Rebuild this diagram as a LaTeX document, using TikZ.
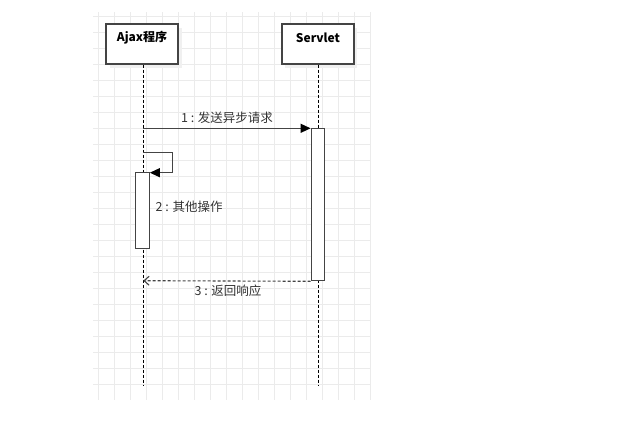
\documentclass[tikz,border=0pt]{standalone}
\usepackage{fontspec}
\setmainfont{Noto Sans CJK SC}
\usetikzlibrary{arrows.meta}
\definecolor{gridc}{HTML}{EBEBEB}
\definecolor{linec}{HTML}{444444}
\definecolor{shadowc}{HTML}{F0F0F0}
\begin{document}
\begin{tikzpicture}[x=1pt,y=-1pt,
  gridline/.style={draw=gridc,line width=0.9pt},
  actorbox/.style={draw=linec,line width=1.3pt,fill=white,minimum width=72pt,minimum height=40pt,inner sep=0pt},
  shadowbox/.style={fill=shadowc,minimum width=72pt,minimum height=40pt,inner sep=0pt},
  actortext/.style={font=\bfseries\fontsize{12pt}{14pt}\selectfont,inner sep=0pt},
  lifeline/.style={draw=black,line width=1pt,dash pattern=on 3pt off 2pt},
  activation/.style={draw=linec,line width=1.2pt,fill=white,inner sep=0pt},
  msg/.style={draw=linec,line width=1.2pt,-{Triangle[length=10pt,width=9pt,color=black]}},
  retmsg/.style={draw=linec,line width=1.1pt,dash pattern=on 3pt off 2pt,-{Straight Barb[length=5pt,width=9pt]}},
  msgtext/.style={font=\fontsize{12.5pt}{14pt}\selectfont,text=black!80,inner sep=0pt}]
\useasboundingbox (0,0) rectangle (637,425);
% grid
\foreach \i in {0,...,17} \draw[gridline] ({98.3+16*\i},12) -- ({98.3+16*\i},400);
\foreach \j in {0,...,23} \draw[gridline] (93,{16.6+16*\j}) -- (371,{16.6+16*\j});
% shadows
\node[shadowbox] (ajaxsh) at (146,48) {};
\node[shadowbox] (servsh) at (321,48) {};
% actor boxes
\node[actorbox] (ajax) at (142,44) {};
\node[actorbox] (serv) at (318,44) {};
\node[actortext] (ajaxlbl) at (142,38) {Ajax程序};
\node[actortext] (servlbl) at (318,38) {Servlet};
% lifelines
\coordinate (ajaxend) at (143.3,385);
\coordinate (servend) at (318.6,385);
\draw[lifeline] (ajax.south -| ajaxend) -- (ajaxend);
\draw[lifeline] (serv.south -| servend) -- (servend);
% activations
\node[activation,minimum width=13pt,minimum height=152.4pt] (servact) at (317.7,204.5) {};
\node[activation,minimum width=13.5pt,minimum height=75.6pt] (ajaxact) at (142.5,210.5) {};
% message 1
\coordinate (m1start) at (143.3,128.3);
\draw[msg] (m1start) -- (m1start -| servact.west);
\node[msgtext] (m1lbl) at (227,118) {1 : 发送异步请求};
% message 2 (self)
\coordinate (m2start) at (143.3,152.7);
\coordinate (m2corner1) at (172.7,152.7);
\coordinate (m2corner2) at (172.7,172.7);
\draw[msg] (m2start) -- (m2corner1) -- (m2corner2) -- (m2corner2 -| ajaxact.east);
\node[msgtext,anchor=west] (m2lbl) at (155.5,207) {2 : 其他操作};
% message 3 (return)
\coordinate (m3end) at (143.3,280.7);
\draw[retmsg] (servact.south west) -- (m3end);
\node[msgtext] (m3lbl) at (228,291) {3 : 返回响应};
\end{tikzpicture}
\end{document}
